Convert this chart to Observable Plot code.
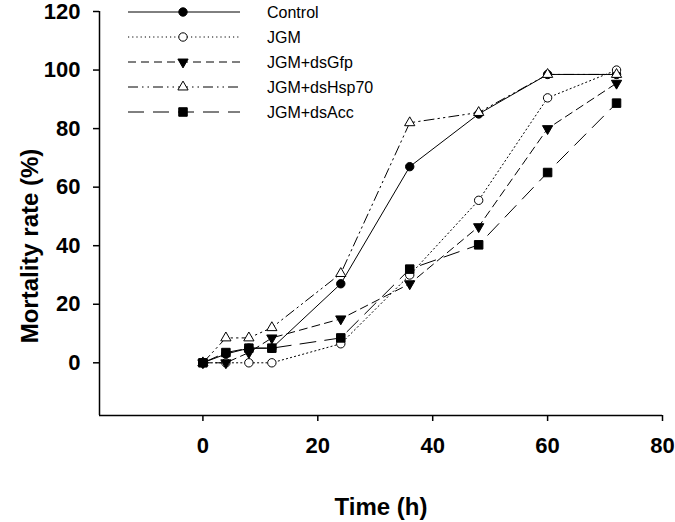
<!DOCTYPE html>
<html><head><meta charset="utf-8">
<script src="https://cdn.jsdelivr.net/npm/d3@7"></script>
<script src="https://cdn.jsdelivr.net/npm/@observablehq/plot@0.6"></script>
<style>
body{margin:0;background:#fff;}
#wrap{position:relative;width:675px;height:522px;font-family:"Liberation Sans",Arial,sans-serif;}
#legend{position:absolute;left:0;top:0;pointer-events:none;}
</style></head><body><div id="wrap"></div>
<script>
const times = [0, 4, 8, 12, 24, 36, 48, 60, 72];
const seriesNames = ["Control", "JGM", "JGM+dsGfp", "JGM+dsHsp70", "JGM+dsAcc"];
const control = [0, 3, 5, 5, 27, 67, 85, 98.5, 98.5];
const jgm = [0, 0, 0, 0, 6.5, 30, 55.5, 90.5, 100];
const jgmDsGfp = [0, 0, 3.5, 8.5, 15, 27, 46.5, 80, 95.5];
const jgmDsHsp70 = [0, 8.5, 8.5, 12, 30.5, 82, 85.5, 98.5, 98.5];
const jgmDsAcc = [0, 3.5, 5, 5, 8.5, 32, 40.3, 65, 88.7];
const xTicks = [0, 20, 40, 60, 80];
const yTicks = [0, 20, 40, 60, 80, 100, 120];
const xDomain = [-18, 80];
const yDomain = [-18, 120];
const xTitle = "Time (h)";
const yTitle = "Mortality rate (%)";

const seriesValues = [control, jgm, jgmDsGfp, jgmDsHsp70, jgmDsAcc];
const styles = [
  {dash: null, symbol: "circle", fill: "black", r: 4.2, rotate: 0},
  {dash: "1.2,3", symbol: "circle", fill: "white", r: 4.2, rotate: 0},
  {dash: "8,5", symbol: "triangle", fill: "black", r: 3.8, rotate: 180},
  {dash: "10,4,1.5,4,1.5,4", symbol: "triangle", fill: "white", r: 3.8, rotate: 0},
  {dash: "16,9", symbol: "square", fill: "black", r: 4.8, rotate: 0}
];

const data = [];
seriesNames.forEach((name, i) => {
  times.forEach((t, j) => data.push({series: name, idx: i, time: t, value: seriesValues[i][j]}));
});

const FONT = '"Liberation Sans", Arial, sans-serif';
const marks = [];
seriesNames.forEach((name, i) => {
  const s = styles[i];
  const d = data.filter(e => e.idx === i);
  marks.push(Plot.line(d, {x: "time", y: "value", stroke: "black", strokeWidth: 1, strokeDasharray: s.dash || undefined}));
});
seriesNames.forEach((name, i) => {
  const s = styles[i];
  const d = data.filter(e => e.idx === i);
  marks.push(Plot.dot(d, {x: "time", y: "value", symbol: () => s.symbol, r: s.r, fill: s.fill, stroke: "black", strokeWidth: 1, rotate: s.rotate}));
});

const chart = Plot.plot({
  width: 675,
  height: 522,
  marginLeft: 99,
  marginRight: 13,
  marginTop: 11,
  marginBottom: 107,
  style: {fontFamily: FONT, background: "white", color: "black"},
  x: {domain: xDomain},
  y: {domain: yDomain},
  symbol: {type: "identity"},
  marks: [
    Plot.ruleX([xDomain[0]], {stroke: "black", strokeWidth: 1.5}),
    Plot.ruleY([yDomain[0]], {stroke: "black", strokeWidth: 1.5}),
    Plot.axisX({ticks: xTicks, tickSize: 6, tickPadding: 16, fontSize: 22, fontWeight: "bold", label: null, tickFormat: d => String(d), stroke: "black", strokeWidth: 1.5}),
    Plot.axisY({ticks: yTicks, tickSize: 6, tickPadding: 13, fontSize: 22, fontWeight: "bold", label: null, tickFormat: d => String(d), stroke: "black", strokeWidth: 1.5}),
    ...marks
  ]
});
const wrap = document.getElementById("wrap");
wrap.appendChild(chart);

// overlay: axis titles and legend
const svg = d3.select(wrap).append("svg").attr("id", "legend").attr("width", 675).attr("height", 522);
svg.append("text").attr("x", 381).attr("y", 515).attr("text-anchor", "middle")
  .attr("font-family", FONT).attr("font-size", 24).attr("font-weight", "bold").attr("fill", "black").text(xTitle);
svg.append("text").attr("transform", "translate(38,246) rotate(-90)").attr("text-anchor", "middle")
  .attr("font-family", FONT).attr("font-size", 24).attr("font-weight", "bold").attr("fill", "black").text(yTitle);

const symMap = {circle: d3.symbolCircle, triangle: d3.symbolTriangle, square: d3.symbolSquare};
seriesNames.forEach((name, i) => {
  const s = styles[i];
  const y = 12 + i * 25;
  const g = svg.append("g");
  g.append("line").attr("x1", 128).attr("x2", 240).attr("y1", y).attr("y2", y)
    .attr("stroke", "black").attr("stroke-width", 1).attr("stroke-dasharray", s.dash);
  g.append("path").attr("d", d3.symbol(symMap[s.symbol], Math.PI * s.r * s.r)())
    .attr("transform", `translate(183,${y}) rotate(${s.rotate})`)
    .attr("fill", s.fill).attr("stroke", "black").attr("stroke-width", 1);
  g.append("text").attr("x", 267).attr("y", y).attr("dy", "0.35em")
    .attr("font-family", FONT).attr("font-size", 16).attr("fill", "black").text(name);
});
</script></body></html>
